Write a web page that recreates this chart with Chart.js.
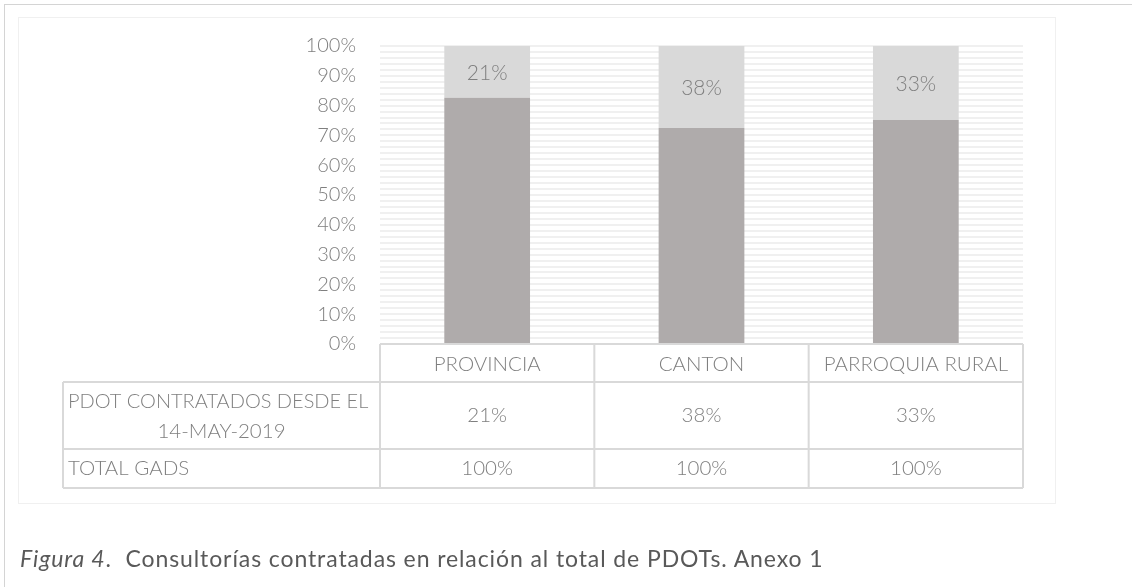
<!DOCTYPE html>
<html>
<head>
<meta charset="utf-8">
<script src="https://cdn.jsdelivr.net/npm/chart.js@4/dist/chart.umd.min.js"></script>
<style>
  html, body { margin: 0; padding: 0; background: #fff; }
  #wrap { position: relative; width: 1132px; height: 587px; overflow: hidden; }
  #outer { position: absolute; left: 4px; top: 4px; width: 1140px; height: 600px;
           border-left: 1px solid #d4d4d4; border-top: 1px solid #d4d4d4; }
  #inner { position: absolute; left: 18px; top: 17px; width: 1036px; height: 485px;
           border: 1px solid #f0f0f0; }
  canvas { position: absolute; left: 0; top: 0; }
  #caption { position: absolute; left: 20px; top: 544px; font-family: "Lato", "Open Sans", sans-serif;
             font-size: 23px; letter-spacing: 0.9px; color: #595959; white-space: nowrap; }
</style>
</head>
<body>
<div id="wrap">
  <div id="outer"></div>
  <div id="inner"></div>
  <canvas id="chart" width="1132" height="587"></canvas>
  <div id="caption"><i>Figura 4</i>.&nbsp; Consultorías contratadas en relación al total de PDOTs. Anexo 1</div>
</div>
<script>
// datos
const categories = ["PROVINCIA", "CANTON", "PARROQUIA RURAL"];
const pdotContratados = [21, 38, 33];
const totalGads = [100, 100, 100];
const rowLabels = [["PDOT CONTRATADOS DESDE EL", "14-MAY-2019"], ["TOTAL GADS"]];

const FONT = '"Lato", "Open Sans", sans-serif';
const TEXT = "#7f7f7f";

// 100% apilado: cada serie como parte del total de la categoría
const share = (a, b) => a.map((v, i) => v / (v + b[i]) * 100);

// etiquetas dentro de las barras claras
const barLabels = {
    id: "barLabels",
    afterDatasetsDraw(chart) {
        const ctx = chart.ctx;
        const meta = chart.getDatasetMeta(1);
        ctx.save();
        ctx.font = "300 21px " + FONT;
        ctx.fillStyle = TEXT;
        ctx.textAlign = "center";
        ctx.textBaseline = "middle";
        meta.data.forEach((bar, i) => {
            ctx.fillText(pdotContratados[i] + "%", bar.x, (bar.y + bar.base) / 2 + 1);
        });
        ctx.restore();
    }
};

// tabla de datos bajo el gráfico
const dataTable = {
    id: "dataTable",
    afterDraw(chart) {
        const ctx = chart.ctx;
        const area = chart.chartArea;
        const x = chart.scales.x;
        const left = 63;
        const colW = (area.right - area.left) / categories.length;
        const rows = [area.bottom, area.bottom + 38, area.bottom + 105, area.bottom + 144];

        ctx.save();
        ctx.strokeStyle = "#d9d9d9";
        ctx.lineWidth = 2;
        ctx.beginPath();
        // líneas horizontales
        ctx.moveTo(area.left, rows[0]); ctx.lineTo(area.right, rows[0]);
        for (let r = 1; r < rows.length; r++) {
            ctx.moveTo(left, rows[r]); ctx.lineTo(area.right, rows[r]);
        }
        // líneas verticales
        for (let c = 0; c <= categories.length; c++) {
            const cx = area.left + c * colW;
            ctx.moveTo(cx, rows[0]); ctx.lineTo(cx, rows[3]);
        }
        ctx.moveTo(left, rows[1]); ctx.lineTo(left, rows[3]);
        ctx.stroke();

        ctx.font = "300 20.5px " + FONT;
        ctx.fillStyle = TEXT;
        ctx.textBaseline = "middle";
        ctx.textAlign = "center";
        categories.forEach((c, i) => {
            const cx = x.getPixelForValue(i);
            ctx.fillText(c, cx, (rows[0] + rows[1]) / 2 + 1);
            ctx.fillText(pdotContratados[i] + "%", cx, (rows[1] + rows[2]) / 2);
            ctx.fillText(totalGads[i] + "%", cx, (rows[2] + rows[3]) / 2);
        });

        // etiquetas de fila
        const midCol = (left + area.left) / 2;
        ctx.fillText(rowLabels[0][1], midCol, (rows[1] + rows[2]) / 2 + 16);
        ctx.textAlign = "left";
        ctx.font = "300 20px " + FONT;
        ctx.fillText(rowLabels[0][0], left + 5, (rows[1] + rows[2]) / 2 - 14);
        ctx.font = "300 20.5px " + FONT;
        ctx.fillText(rowLabels[1][0], left + 5, (rows[2] + rows[3]) / 2);
        ctx.restore();
    }
};

new Chart(document.getElementById("chart"), {
    type: "bar",
    data: {
        labels: categories,
        datasets: [
            {
                label: "TOTAL GADS",
                data: share(totalGads, pdotContratados),
                backgroundColor: "#afabab",
                categoryPercentage: 1,
                barPercentage: 0.4
            },
            {
                label: "PDOT CONTRATADOS DESDE EL 14-MAY-2019",
                data: share(pdotContratados, totalGads),
                backgroundColor: "#d9d9d9",
                categoryPercentage: 1,
                barPercentage: 0.4
            }
        ]
    },
    options: {
        responsive: false,
        animation: false,
        layout: { padding: { left: 0, top: 46, right: 109, bottom: 243 } },
        plugins: {
            legend: { display: false },
            tooltip: { enabled: false }
        },
        scales: {
            x: {
                stacked: true,
                display: false
            },
            y: {
                stacked: true,
                min: 0,
                max: 100,
                afterFit: (s) => { s.width = 380; },
                border: { display: false },
                grid: { color: "#f0f0f0", lineWidth: 2, drawTicks: false },
                ticks: {
                    stepSize: 2,
                    autoSkip: false,
                    padding: 24,
                    color: TEXT,
                    font: { family: FONT, size: 20, weight: "300" },
                    callback: (v) => (v % 10 === 0 ? v + "%" : "")
                }
            }
        }
    },
    plugins: [barLabels, dataTable]
});
</script>
</body>
</html>
